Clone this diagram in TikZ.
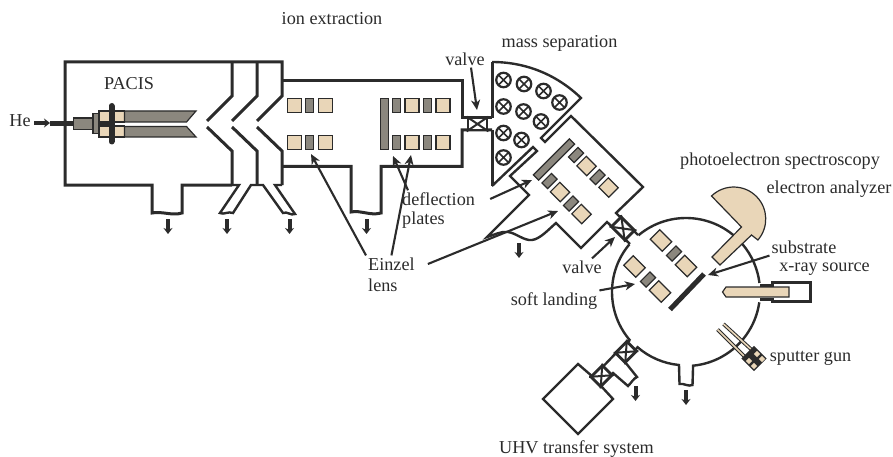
\documentclass[tikz,border=0pt]{standalone}
\usepackage{fontspec}
\setmainfont{Liberation Serif}
\usepackage{tikz}
\usetikzlibrary{positioning}
\usetikzlibrary{arrows,calc,arrows.meta}
\definecolor{inkc}{HTML}{2B2B2B}
\definecolor{sandc}{HTML}{E9D6B8}
\definecolor{slatec}{HTML}{8B877E}
\tikzset{
	wall/.style = {draw=inkc, line width=3pt, line join=miter},
	thinwall/.style = {draw=inkc, line width=2.4pt, line join=miter},
	lbl/.style = {text=inkc, font=\fontsize{18.2}{20}\selectfont, inner sep=2pt},
	pointer/.style = {-{Stealth[length=10pt,width=9pt,inset=3pt]}, draw=inkc, line width=2.1pt},
	pump/.style = {-{Stealth[length=6pt,width=9pt]}, draw=inkc, line width=4pt},
	lensplate/.style = {draw=inkc, line width=1.2pt, fill=sandc, inner sep=0pt,
		minimum width=14pt, minimum height=13.5pt},
	gridplate/.style = {draw=inkc, line width=1.2pt, fill=slatec, inner sep=0pt,
		minimum width=8pt, minimum height=13.5pt},
	guncell/.style = {fill=sandc, inner sep=0pt, minimum size=4.5pt, rotate=45},
	valvebox/.style = {draw=inkc, line width=2.8pt, inner sep=0pt,
		minimum width=19pt, minimum height=13.5pt, fill=white},
	valvecross/.style = {draw=inkc, line width=2pt},
	coil/.style = {circle, draw=inkc, line width=2.2pt, inner sep=0pt, minimum size=14.5pt,
		path picture={\draw[inkc, line width=1.7pt]
			(path picture bounding box.north west) -- (path picture bounding box.south east)
			(path picture bounding box.south west) -- (path picture bounding box.north east);}},
}
\begin{document}
\begin{tikzpicture}[x=1pt,y=-1pt]
	\useasboundingbox (0,0) rectangle (893,457);
	% labels
	\node (he) [lbl] at (20,121) {He};
	\node (pacis) [lbl] at (129,83.5) {PACIS};
	\node (extraction) [lbl] at (332,19) {ion extraction};
	\node (valvea) [lbl] at (465,59) {valve};
	\node (separation) [lbl] at (559.5,43) {mass separation};
	\node (deflection) [lbl, anchor=west] at (400,199) {deflection};
	\node (plates) [lbl, anchor=west] at (400,220) {plates};
	\node (einzel) [lbl, anchor=west] at (366,264) {Einzel};
	\node (lens) [lbl, anchor=west] at (366,285) {lens};
	\node (valveb) [lbl] at (582,267) {valve};
	\node (landing) [lbl] at (554,301) {soft landing};
	\node (spectroscopy) [lbl] at (780,161) {photoelectron spectroscopy};
	\node (analyzer) [lbl] at (829,189) {electron analyzer};
	\node (substrate) [lbl] at (804,247) {substrate};
	\node (xray) [lbl] at (824.5,269) {x-ray source};
	\node (gun) [lbl] at (810.5,358) {sputter gun};
	\node (transfer) [lbl] at (576.5,449) {UHV transfer system};

	% source chamber and skimmers
	\draw[wall] (232,185) -- (182,185) -- (182,213) .. controls (172,216) and (162,211) .. (152,213)
		-- (152,185) -- (65,185) -- (65,62) -- (282,62) -- (282,96) -- (257,121);
	\draw[wall] (232,62) -- (232,96) -- (207,121);
	\draw[wall] (257,62) -- (257,96) -- (232,121);
	\draw[wall] (207,127) -- (232,151) -- (232,185);
	\draw[wall] (232,127) -- (257,151) -- (257,185);
	\draw[wall] (257,127) -- (282,151) -- (282,185);
	\draw[thinwall] (232,185) -- (239,185) -- (220,213) .. controls (224,215) and (228,211) .. (233,213)
		-- (251,185) -- (263,185) -- (283,213) .. controls (287,211) and (291,216) .. (295,214)
		-- (275,185) -- (282,185);

	% lens chamber
	\draw[wall] (282,80.5) -- (462,80.5) -- (462,118) -- (492,118);
	\draw[wall] (282,166.5) -- (351,166.5) -- (351,212) .. controls (361,210) and (370,216) .. (381,213)
		-- (381,166.5) -- (462,166.5) -- (462,130) -- (492,130);
	\node (valvec) [valvebox, minimum height=12pt] at (477.5,124) {};
	\draw[valvecross] (valvec.north west) -- (valvec.south east) (valvec.south west) -- (valvec.north east);

	% magnet sector
	\draw[wall] (492,118) -- (492,62);
	\draw[wall] (492,130) -- (492,186);
	\draw[thinwall] (492,62) .. controls (525,62) and (556,74) .. (581,98) -- (541,138) -- (545,142) -- (571,116)
		-- (643,187) -- (616,213) -- (638,235);
	\draw[thinwall] (492,186) -- (533,147) -- (537,151) -- (510,176) -- (529,195) -- (487,237)
		.. controls (494,235) and (501,231) .. (508,232) .. controls (516,233) and (524,241) .. (532,240)
		.. controls (540,239) and (548,230) .. (556,223) -- (581,248) -- (607,222) -- (630,244);
	\node (valved) [valvebox, rotate=-45] at (623,228.5) {};
	\draw[valvecross] (valved.north west) -- (valved.south east) (valved.south west) -- (valved.north east);
	\node (c1) [coil] at (503.5,80) {};
	\node (c2) [coil] at (524,84) {};
	\node (c3) [coil] at (543.5,91) {};
	\node (c4) [coil] at (559.5,102.5) {};
	\node (c5) [coil] at (503.5,106.5) {};
	\node (c6) [coil] at (523.5,111.5) {};
	\node (c7) [coil] at (541,121.5) {};
	\node (c8) [coil] at (503.5,133) {};
	\node (c9) [coil] at (521.5,140) {};
	\node (c10) [coil] at (503.5,157.5) {};

	% einzel lenses, straight part
	\node (a1) [lensplate] at (294.5,105.5) {};
	\node (a2) [gridplate] at (309.5,105.5) {};
	\node (a3) [lensplate] at (325.5,105.5) {};
	\node (a4) [lensplate] at (294.5,142.5) {};
	\node (a5) [gridplate] at (309.5,142.5) {};
	\node (a6) [lensplate] at (325.5,142.5) {};
	\node (defa) [draw=inkc, line width=1.2pt, fill=slatec, inner sep=0pt, minimum width=7.5pt, minimum height=50.5pt] at (384.5,124) {};
	\node (a7) [gridplate] at (396.5,105.5) {};
	\node (a8) [lensplate] at (412,105.5) {};
	\node (a9) [gridplate] at (427.5,105.5) {};
	\node (a10) [lensplate] at (443,105.5) {};
	\node (a11) [gridplate] at (396.5,142.5) {};
	\node (a12) [lensplate] at (412,142.5) {};
	\node (a13) [gridplate] at (427.5,142.5) {};
	\node (a14) [lensplate] at (443,142.5) {};

	% einzel lenses, slanted part
	\node (defb) [draw=inkc, line width=1.2pt, fill=slatec, inner sep=0pt, minimum width=7.5pt, minimum height=51pt, rotate=-45] at (554,159.5) {};
	\node (b1) [gridplate, rotate=-45] at (576,155) {};
	\node (b2) [lensplate, rotate=-45] at (586.5,166) {};
	\node (b3) [gridplate, rotate=-45] at (597.5,177) {};
	\node (b4) [lensplate, rotate=-45] at (608.5,187.5) {};
	\node (b5) [gridplate, rotate=-45] at (549.5,181) {};
	\node (b6) [lensplate, rotate=-45] at (560,192) {};
	\node (b7) [gridplate, rotate=-45] at (571,203.5) {};
	\node (b8) [lensplate, rotate=-45] at (581.5,214) {};

	% analysis chamber
	\coordinate (centre) at (686,292);
	\draw[thinwall] ([shift={(130:74pt)}]centre) arc[start angle=130, end angle=7, radius=74pt];
	\draw[thinwall] ([shift={(-8:74pt)}]centre) arc[start angle=-8, end angle=-84.5, radius=74pt]
		-- (692.5,385) .. controls (688,387) and (684,383) .. (679.5,384) -- (679,365)
		arc[start angle=-95.5, end angle=-131, radius=74pt] -- (625,362) -- (637,377)
		.. controls (633,379) and (632,382) .. (628,386) -- (613,373) -- (601,386) -- (613,399) -- (578,434)
		-- (543,399) -- (578,364) -- (593,377) -- (617,352) -- (630,340);
	\draw[thinwall] ([shift={(221:74pt)}]centre) arc[start angle=221, end angle=140, radius=74pt];
	\node (valvee) [valvebox, rotate=45, minimum width=16pt] at (626,352) {};
	\draw[valvecross] (valvee.north west) -- (valvee.south east) (valvee.south west) -- (valvee.north east);
	\node (valvef) [valvebox, rotate=45, minimum width=16pt] at (601.5,376) {};
	\draw[valvecross] (valvef.north west) -- (valvef.south east) (valvef.south west) -- (valvef.north east);
	\node (d1) [lensplate, rotate=-45, minimum width=17pt] at (661,240.5) {};
	\node (d2) [gridplate, rotate=-45] at (674,253.5) {};
	\node (d3) [lensplate, rotate=-45, minimum width=17pt] at (686,266) {};
	\node (d4) [lensplate, rotate=-45, minimum width=17pt] at (634.5,266.5) {};
	\node (d5) [gridplate, rotate=-45] at (648,279.5) {};
	\node (d6) [lensplate, rotate=-45, minimum width=17pt] at (660,291.5) {};
	\draw[inkc, line width=5pt] (670,309.5) -- (704,274);

	% analyzer, source and gun
	\draw[draw=inkc, line width=1.2pt, fill=sandc] (711.5,196) arc[start angle=134, end angle=-41, radius=32pt]
		-- (751.5,235) -- (720,265) -- (712,257) -- (741.5,227) -- cycle;
	\draw[wall] (760,285) -- (772.5,285) -- (772.5,282.5) -- (810.5,282.5) -- (810.5,301.5) -- (772.5,301.5)
		-- (772.5,299) -- (760,299);
	\draw[draw=inkc, line width=1.2pt, fill=sandc] (722.5,292) -- (726,287) -- (789,287) -- (789,297) -- (726,297) -- cycle;
	\draw[inkc, line width=3.6pt] (717.5,329.5) -- (747,359) (723.5,324) -- (754,352);
	\draw[sandc, line width=1.6pt] (717.5,329.5) -- (747,359) (723.5,324) -- (754,352);
	\node (gunbody) [fill=inkc, inner sep=0pt, minimum size=18pt, rotate=45] at (754,358.5) {};
	\node (g1) [guncell] at (749,361) {};
	\node (g2) [guncell] at (754,366) {};
	\node (g3) [guncell] at (757,354) {};
	\node (g4) [guncell] at (762,359) {};

	% pumping arrows
	\draw[pump] (168,219) -- (168,234);
	\draw[pump] (227,219) -- (227,234);
	\draw[pump] (289.5,219) -- (289.5,234);
	\draw[pump] (366.5,219) -- (366.5,234);
	\draw[pump] (519,243) -- (519,258);
	\draw[pump] (635.5,386) -- (635.5,401);
	\draw[pump] (686,390) -- (686,405);

	% ion source
	\draw[pump] (34,123) -- (50,123);
	\draw[inkc, line width=5pt] (50,123.5) -- (73.5,123.5);
	\draw[draw=inkc, line width=1.2pt, fill=slatec] (73.5,118) rectangle (93,129.5);
	\draw[draw=inkc, line width=1.2pt, fill=slatec] (93,113.5) rectangle (99,133.5);
	\draw[draw=inkc, line width=1.2pt, fill=sandc] (99,111) rectangle (124.5,122);
	\draw[draw=inkc, line width=1.2pt, fill=sandc] (99,126) rectangle (124.5,137);
	\draw[draw=inkc, line width=1.2pt, fill=slatec] (124.5,111) -- (196,111) -- (186.5,122) -- (124.5,122) -- cycle;
	\draw[draw=inkc, line width=1.2pt, fill=slatec] (124.5,126.5) -- (186.5,126.5) -- (196,137) -- (124.5,137) -- cycle;
	\draw[inkc, line width=2pt] (99,124) -- (115,124);
	\draw[inkc, line width=6pt, line cap=round] (111.5,106) -- (111.5,141.5);

	% annotation arrows
	\coordinate (va) at (477,110);
	\coordinate (ea) at (311,154);
	\coordinate (eb) at (411,155);
	\coordinate (ec) at (558,211);
	\coordinate (fa) at (393,156);
	\coordinate (fb) at (532,180);
	\coordinate (vb) at (615,237);
	\coordinate (sl) at (635,284);
	\coordinate (su) at (708,275);
	\draw[pointer] ([xshift=6pt]valvea.south) -- (va);
	\draw[pointer] (einzel.north west) -- (ea);
	\draw[pointer] (einzel.north) -- (eb);
	\draw[pointer] ([xshift=11pt]einzel.east) -- (ec);
	\draw[pointer] ([xshift=8pt]deflection.north west) -- (fa);
	\draw[pointer] ([xshift=13pt]deflection.east) -- (fb);
	\draw[pointer] ([xshift=10pt]valveb.north) -- (vb);
	\draw[pointer] (landing.north east) -- (sl);
	\draw[pointer] (substrate.south west) -- (su);
\end{tikzpicture}
\end{document}
